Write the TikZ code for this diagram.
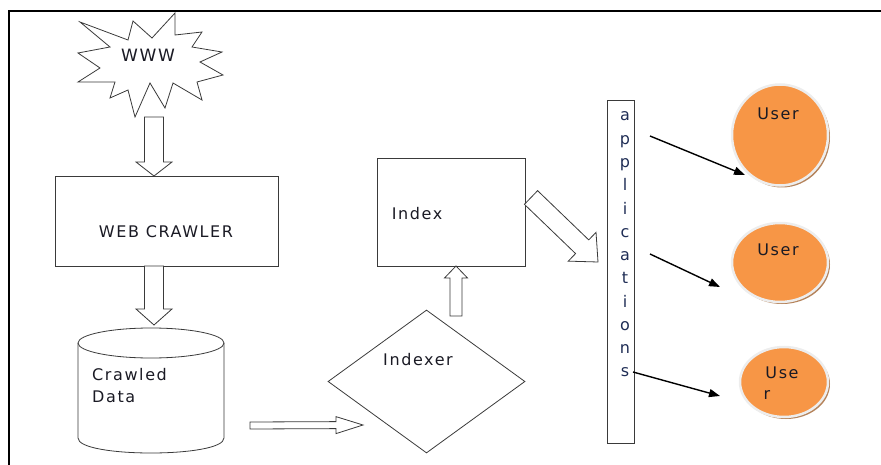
\documentclass[tikz,border=0pt]{standalone}
\usepackage{fontspec}
\newfontfamily\df[LetterSpace=10]{DejaVu Sans}
\usetikzlibrary{calc,shapes.geometric,arrows.meta,shadows}
\definecolor{uorange}{HTML}{F79646}
\definecolor{ushadow}{HTML}{B5835A}
\definecolor{uhalo}{HTML}{EDEDED}
\definecolor{txt}{HTML}{1A1A24}
\definecolor{apptxt}{HTML}{1F2D55}
\definecolor{edge}{HTML}{3A3A3A}
\newcommand\blockarrow[5]{%
  \coordinate (ba-h) at ($(#2)!#5!(#1)$);
  \draw[blk] ($(#1)!#3!90:(#2)$) -- ($(ba-h)!#3!90:(#2)$) -- ($(ba-h)!#4!90:(#2)$)
    -- (#2) -- ($(ba-h)!#4!-90:(#2)$) -- ($(ba-h)!#3!-90:(#2)$) -- ($(#1)!#3!-90:(#2)$) -- cycle;}
\begin{document}
\begin{tikzpicture}[x=1pt,y=-1pt,
  shapeline/.style={draw=edge, line width=0.8pt},
  lbl/.style={font=\df\fontsize{16}{18}\selectfont, text=txt, inner sep=0pt},
  letter/.style={font=\df\fontsize{16}{18}\selectfont, text=apptxt, inner sep=0pt, anchor=base},
  blk/.style={draw=edge, line width=0.8pt, fill=white, line join=miter},
  user/.style={ellipse, fill=uorange, draw=uhalo, line width=2.5pt, inner sep=0pt,
    drop shadow={fill=ushadow, shadow xshift=2pt, shadow yshift=-2pt, opacity=1}},
  link/.style={line width=1.4pt, -{Triangle[length=11pt,width=8pt]}}]
\useasboundingbox (0,0) rectangle (881,465);
% frame
\draw[line width=2pt] (9,465) -- (9,11) -- (881,11);
% WWW star
\draw[shapeline, fill=white] (80,22) -- (128,40) -- (133,21) -- (152,38) -- (175,13) -- (175,35)
  -- (202,32) -- (192,47) -- (222,52) -- (200,62) -- (223,75) -- (197,82) -- (202,100)
  -- (173,83) -- (165,108) -- (150,83) -- (135,117) -- (128,90) -- (110,98) -- (115,82)
  -- (78,82) -- (100,68) -- (78,53) -- (110,47) -- cycle;
\node[lbl, font=\df\fontsize{17}{19}\selectfont] (www) at (148,55) {WWW};
% web crawler
\node[shapeline, minimum width=223pt, minimum height=90pt, inner sep=0pt] (crawler) at (166.5,221) {};
\node[lbl] (crawlertxt) at (166,232) {WEB CRAWLER};
% cylinder
\coordinate (cyl) at (151,343);
\draw[shapeline] (78,343) -- (78,438) .. controls (78,458) and (224,458) .. (224,438) -- (224,343);
\draw[shapeline] (cyl) ellipse [x radius=73pt, y radius=15pt];
\node[lbl, anchor=west] (crawled) at (92,375) {Crawled};
\node[lbl, anchor=west] (data) at (92,397) {Data};
% index
\node[shapeline, minimum width=148pt, minimum height=108pt, inner sep=0pt] (index) at (451,212) {};
\node[lbl] (indextxt) at (417,214) {Index};
% indexer
\node[shapeline, diamond, minimum width=197pt, minimum height=143pt, inner sep=0pt] (indexer) at (426.5,381.5) {};
\node[lbl] (indexertxt) at (418,360) {Indexer};
% applications
\node[shapeline, minimum width=27pt, minimum height=343pt, inner sep=0pt] (apps) at (620.5,271.5) {};
\foreach \ch [count=\i] in {a,p,p,l,i,c,a,t,i,o,n,s}
  \node[letter] (ap\i) at (625,{121+(\i-1)*23.27}) {\ch};
% users
\node[user, minimum width=96pt, minimum height=101pt] (u1) at (780,135) {};
\node[user, minimum width=96pt, minimum height=79pt] (u2) at (780,262.5) {};
\node[user, minimum width=88pt, minimum height=70pt] (u3) at (784,382) {};
\node[lbl] (u1t) at (778,114) {User};
\node[lbl] (u2t) at (778,250) {User};
\node[lbl] (u3t) at (782,373) {Use};
\node[lbl] (u3r) at (767,395) {r};
% block arrows
\coordinate (a1s) at (154,117); \coordinate (a1e) at (154,176);
\blockarrow{a1s}{a1e}{9.5pt}{18pt}{14pt}
\coordinate (a2s) at (154,266); \coordinate (a2e) at (154,325);
\blockarrow{a2s}{a2e}{9.5pt}{18pt}{16pt}
\coordinate (a3s) at (250,425.5); \coordinate (a3e) at (363,425);
\blockarrow{a3s}{a3e}{3.5pt}{8.5pt}{27pt}
\coordinate (a4s) at (456,316); \coordinate (a4e) at (456,266);
\blockarrow{a4s}{a4e}{6pt}{11.5pt}{12pt}
\coordinate (a5s) at (531,197.5); \coordinate (a5e) at (598,262);
\blockarrow{a5s}{a5e}{9.5pt}{20pt}{22pt}
% links to users
\coordinate (l1s) at (650,136); \coordinate (l1e) at (745,175);
\coordinate (l2s) at (650,254); \coordinate (l2e) at (720,287);
\coordinate (l3s) at (633,372); \coordinate (l3e) at (720,396);
\draw[link] (l1s) -- (l1e);
\draw[link] (l2s) -- (l2e);
\draw[link] (l3s) -- (l3e);
\end{tikzpicture}
\end{document}
